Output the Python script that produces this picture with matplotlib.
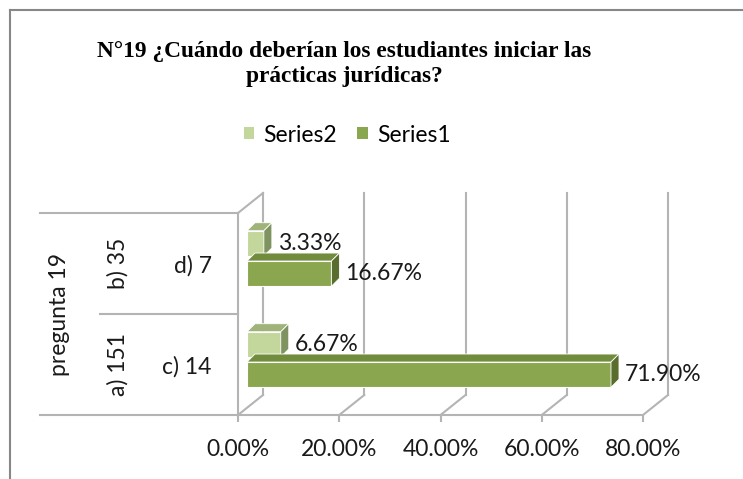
import matplotlib.pyplot as plt
from matplotlib.lines import Line2D
from matplotlib.patches import Patch, Polygon

categories = ["c) 14", "d) 7"]
groups = ["a) 151", "b) 35"]
outer_label = "pregunta 19"
series1 = [0.7190, 0.1667]
series2 = [0.0667, 0.0333]
ticks = [0.0, 0.2, 0.4, 0.6, 0.8]
tick_labels = ["0.00%", "20.00%", "40.00%", "60.00%", "80.00%"]
title_lines = ["N°19 ¿Cuándo deberían los estudiantes iniciar las",
               "prácticas jurídicas?"]

c1_front, c1_top, c1_side = "#8aa74f", "#728c3e", "#586d2e"
c2_front, c2_top, c2_side = "#c3d69b", "#9fb37a", "#7e935f"
grid_c = "#b4b4b4"
text_c = "#1a1a1a"
sans = "Lato"

W, H = 743, 479
fig = plt.figure(figsize=(W / 100, H / 100), dpi=100)
ax = fig.add_axes([238 / W, 1 - 415 / H, 405 / W, 202 / H])
ax.set_xlim(0, 0.8)
ax.set_ylim(0, 2)
ax.patch.set_visible(False)

# pixel -> data conversions for the fake 3D depth
ppx = 405 / 0.8
ppy = 202 / 2.0


def px(dx, dy):
    return dx / ppx, dy / ppy


# walls and floor
bx, by = px(25, 20)
for t in ticks:
    ax.plot([t, t + bx], [0, by], color=grid_c, lw=1.5, clip_on=False, zorder=1)
    ax.plot([t + bx, t + bx], [by, 2 + by], color=grid_c, lw=1.5, clip_on=False, zorder=1)
ax.plot([0, bx], [2, 2 + by], color=grid_c, lw=1.5, clip_on=False, zorder=1)

# category table lines on the left
ytr = ax.get_yaxis_transform()
ax.plot([-198 / 405, 0], [2, 2], color=grid_c, lw=1.5, transform=ytr, clip_on=False)
ax.plot([-138 / 405, 0], [1, 1], color=grid_c, lw=1.5, transform=ytr, clip_on=False)
ax.plot([-198 / 405, 0], [0, 0], color=grid_c, lw=1.5, transform=ytr, clip_on=False)

# bars
ox, oy = px(9, 5)
ddx, ddy = px(8, 8)
h = 0.25
for i in range(len(categories)):
    for vals, off, cf, ct, cs, z in [(series2, 0.15, c2_front, c2_top, c2_side, 3),
                                     (series1, -0.15, c1_front, c1_top, c1_side, 4)]:
        v = vals[i]
        yc = i + 0.5 + off + oy
        lo, hi = yc - h / 2, yc + h / 2
        ax.barh(yc, v, left=ox, height=h, color=cf, edgecolor="white",
                linewidth=0.8, zorder=z, clip_on=False)
        ax.add_patch(Polygon([(ox, hi), (ox + v, hi), (ox + v + ddx, hi + ddy),
                              (ox + ddx, hi + ddy)], closed=True, facecolor=ct,
                             edgecolor="white", lw=0.6, zorder=z, clip_on=False))
        ax.add_patch(Polygon([(ox + v, lo), (ox + v + ddx, lo + ddy),
                              (ox + v + ddx, hi + ddy), (ox + v, hi)], closed=True,
                             facecolor=cs, edgecolor="white", lw=0.6, zorder=z,
                             clip_on=False))
        ax.annotate(f"{v * 100:.2f}%", xy=(v, i + 0.5 + off), xytext=(23, 5),
                    textcoords="offset pixels", ha="left", va="center",
                    fontsize=16.5, family=sans, color=text_c, zorder=6)

# axes styling
for s in ["top", "right"]:
    ax.spines[s].set_visible(False)
for s in ["left", "bottom"]:
    ax.spines[s].set_color(grid_c)
    ax.spines[s].set_linewidth(1.5)
ax.set_xticks(ticks, tick_labels)
ax.set_yticks([0.5, 1.5], categories)
ax.tick_params(axis="x", direction="out", length=5, width=1.5, color=grid_c,
               pad=12, labelsize=16.5, labelcolor=text_c)
ax.tick_params(axis="y", length=0, pad=19, labelsize=16.5, labelcolor=text_c)
for lab in ax.get_xticklabels() + ax.get_yticklabels():
    lab.set_family(sans)

for j, g in enumerate(groups):
    ax.text(-120 / 405, j + 0.5, g, transform=ytr, rotation=90, ha="center",
            va="center", fontsize=16.5, family=sans, color=text_c)
ax.text(-178 / 405, 1.0, outer_label, transform=ytr, rotation=90, ha="center",
        va="center", fontsize=16.5, family=sans, color=text_c)

# title
fig.text(344 / W, 1 - 56.7 / H, title_lines[0], ha="center", va="baseline",
         family="Liberation Serif", weight="bold", fontsize=16.8, color="black")
fig.text(344 / W, 1 - 81.7 / H, title_lines[1], ha="center", va="baseline",
         family="Liberation Serif", weight="bold", fontsize=16.8, color="black")

# legend
handles = [Patch(facecolor=c2_front, label="Series2"),
           Patch(facecolor=c1_front, label="Series1")]
fig.legend(handles=handles, loc="center", bbox_to_anchor=(347 / W, 1 - 135 / H),
           ncol=2, frameon=False, handlelength=0.45, handleheight=0.45,
           handletextpad=0.4, columnspacing=0.9,
           prop={"family": sans, "size": 16.5})

# outer frame
fig.add_artist(Line2D([10 / W, 10 / W], [0, 1 - 10 / H], color="#878787", lw=1.5,
                      transform=fig.transFigure))
fig.add_artist(Line2D([10 / W, 1], [1 - 10 / H, 1 - 10 / H], color="#878787", lw=1.5,
                      transform=fig.transFigure))

fig.savefig("out.png", dpi=100, facecolor="white")
